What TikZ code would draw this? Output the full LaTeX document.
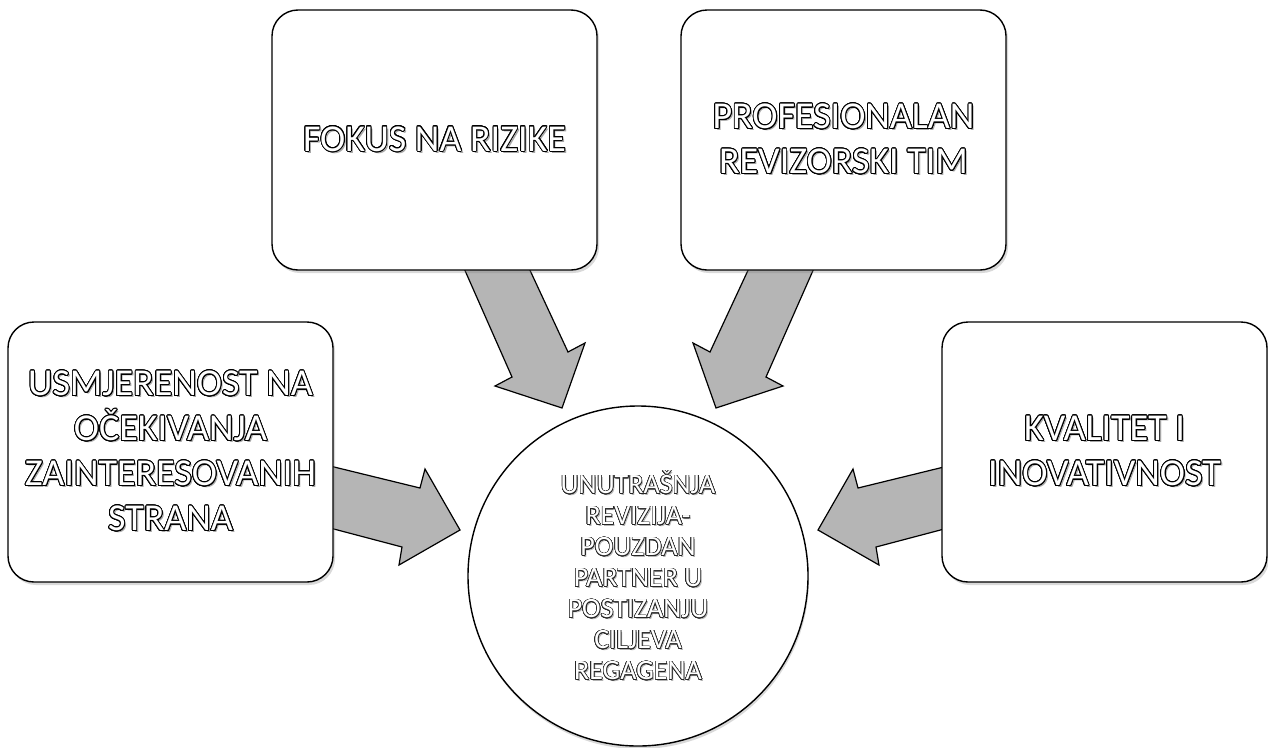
\documentclass[tikz,border=0pt]{standalone}
\usepackage{fontspec}
\setmainfont{Carlito}
\usepackage{contour}
\contournumber{24}
\usetikzlibrary{shadows}
\newcommand{\ot}[1]{\leavevmode\rlap{\kern2pt\raisebox{-2pt}{\textcolor{black!35}{#1}}}\contourlength{0.9pt}\contour{black}{\textcolor{white}{#1}}}
\newcommand{\os}[1]{\leavevmode\rlap{\kern1.5pt\raisebox{-1.5pt}{\textcolor{black!30}{#1}}}\contourlength{0.6pt}\contour{black!85}{\textcolor{white}{#1}}}
\tikzset{
  box/.style={draw, line width=1.4pt, rounded corners=26pt, fill=white,
    minimum width=325pt, minimum height=260pt, align=center,
    font=\fontsize{38}{45}\selectfont,
    drop shadow={opacity=0.3, shadow xshift=2pt, shadow yshift=-3pt}},
  hub/.style={draw, circle, line width=1.4pt, fill=white, minimum size=340pt,
    align=center, font=\fontsize{28}{31}\selectfont,
    drop shadow={opacity=0.3, shadow xshift=1pt, shadow yshift=-3pt}},
  barrow/.style={draw, line width=1.2pt, line join=miter, fill=gray!58}
}
\begin{document}
\begin{tikzpicture}[x=1pt, y=-1pt]
\useasboundingbox (0,0) rectangle (1268,747);
% block arrows
\draw[barrow] (463,266) -- (512,377) -- (495,386) -- (562,408) -- (585,343) -- (568,352) -- (528,266) -- cycle;
\draw[barrow] (815,266) -- (766,377) -- (783,386) -- (716,408) -- (693,343) -- (710,352) -- (750,266) -- cycle;
\draw[barrow] (330,466) -- (420,488) -- (425,469) -- (460,530) -- (399,565) -- (402,547) -- (330,528) -- cycle;
\draw[barrow] (948,466) -- (858,488) -- (853,469) -- (818,530) -- (879,565) -- (876,547) -- (948,528) -- cycle;
% boxes
\node[box] (fokus) at (434.5,140) {\ot{FOKUS NA RIZIKE}};
\node[box] (tim) at (843.5,140) {\ot{PROFESIONALAN}\\\ot{REVIZORSKI TIM}};
\node[box] (usm) at (170.5,452) {\ot{USMJERENOST NA}\\\ot{OČEKIVANJA}\\\ot{ZAINTERESOVANIH}\\\ot{STRANA}};
\node[box] (kval) at (1104.5,452) {\ot{KVALITET I}\\\ot{INOVATIVNOST}};
\node[hub] (hub) at (638,576) {\os{UNUTRAŠNJA}\\\os{REVIZIJA-}\\\os{POUZDAN}\\\os{PARTNER U}\\\os{POSTIZANJU}\\\os{CILJEVA}\\\os{REGAGENA}};
\end{tikzpicture}
\end{document}
